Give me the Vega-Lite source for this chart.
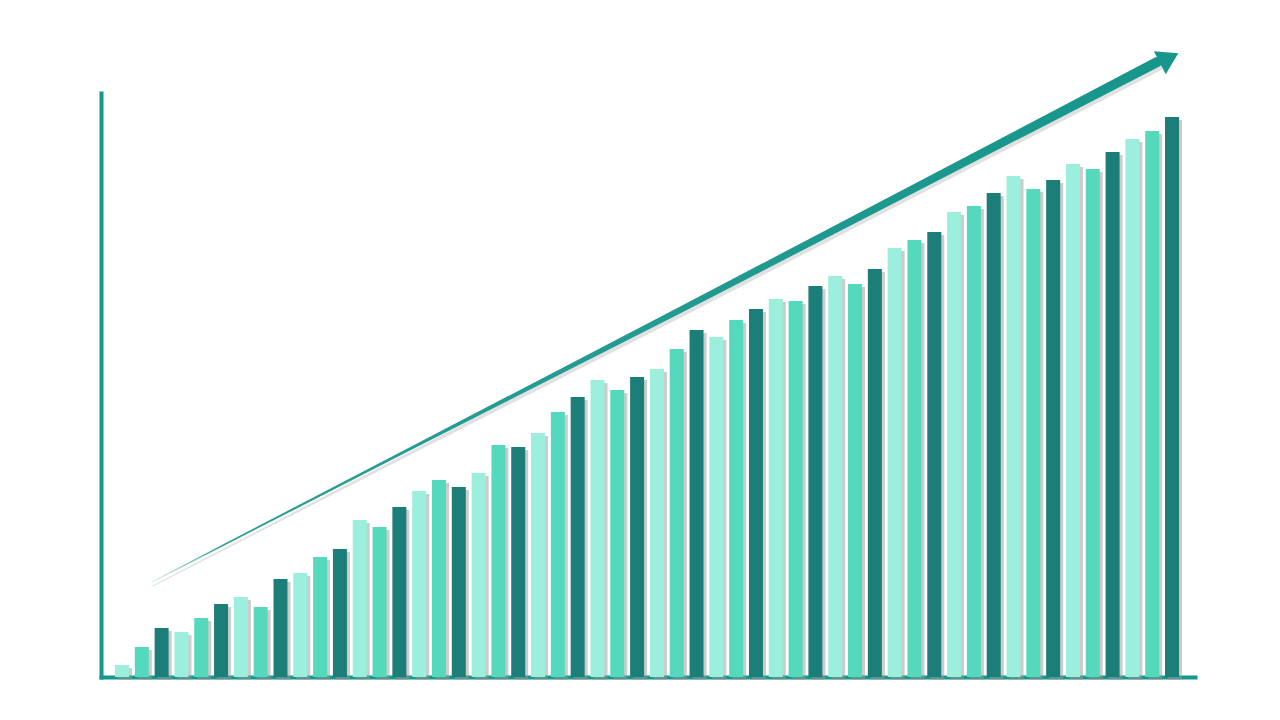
{
  "$schema": "https://vega.github.io/schema/vega-lite/v6.json",
  "description": "Rising bar series with a trend arrow.",
  "width": 1094,
  "height": 584,
  "autosize": {"type": "none"},
  "padding": {"left": 101, "top": 93, "right": 85, "bottom": 43},
  "background": "#ffffff",
  "datasets": {
    "bars": [
      {"i": 0, "v": 2.05, "tone": "light"},
      {"i": 1, "v": 5.14, "tone": "medium"},
      {"i": 2, "v": 8.39, "tone": "dark"},
      {"i": 3, "v": 7.71, "tone": "light"},
      {"i": 4, "v": 10.1, "tone": "medium"},
      {"i": 5, "v": 12.5, "tone": "dark"},
      {"i": 6, "v": 13.7, "tone": "light"},
      {"i": 7, "v": 11.99, "tone": "medium"},
      {"i": 8, "v": 16.78, "tone": "dark"},
      {"i": 9, "v": 17.81, "tone": "light"},
      {"i": 10, "v": 20.55, "tone": "medium"},
      {"i": 11, "v": 21.92, "tone": "dark"},
      {"i": 12, "v": 26.88, "tone": "light"},
      {"i": 13, "v": 25.68, "tone": "medium"},
      {"i": 14, "v": 29.11, "tone": "dark"},
      {"i": 15, "v": 31.85, "tone": "light"},
      {"i": 16, "v": 33.73, "tone": "medium"},
      {"i": 17, "v": 32.53, "tone": "dark"},
      {"i": 18, "v": 34.93, "tone": "light"},
      {"i": 19, "v": 39.73, "tone": "medium"},
      {"i": 20, "v": 39.38, "tone": "dark"},
      {"i": 21, "v": 41.78, "tone": "light"},
      {"i": 22, "v": 45.38, "tone": "medium"},
      {"i": 23, "v": 47.95, "tone": "dark"},
      {"i": 24, "v": 50.86, "tone": "light"},
      {"i": 25, "v": 49.14, "tone": "medium"},
      {"i": 26, "v": 51.37, "tone": "dark"},
      {"i": 27, "v": 52.74, "tone": "light"},
      {"i": 28, "v": 56.16, "tone": "medium"},
      {"i": 29, "v": 59.42, "tone": "dark"},
      {"i": 30, "v": 58.22, "tone": "light"},
      {"i": 31, "v": 61.13, "tone": "medium"},
      {"i": 32, "v": 63.01, "tone": "dark"},
      {"i": 33, "v": 64.73, "tone": "light"},
      {"i": 34, "v": 64.38, "tone": "medium"},
      {"i": 35, "v": 66.95, "tone": "dark"},
      {"i": 36, "v": 68.66, "tone": "light"},
      {"i": 37, "v": 67.29, "tone": "medium"},
      {"i": 38, "v": 69.86, "tone": "dark"},
      {"i": 39, "v": 73.46, "tone": "light"},
      {"i": 40, "v": 74.83, "tone": "medium"},
      {"i": 41, "v": 76.2, "tone": "dark"},
      {"i": 42, "v": 79.62, "tone": "light"},
      {"i": 43, "v": 80.65, "tone": "medium"},
      {"i": 44, "v": 82.88, "tone": "dark"},
      {"i": 45, "v": 85.79, "tone": "light"},
      {"i": 46, "v": 83.56, "tone": "medium"},
      {"i": 47, "v": 85.1, "tone": "dark"},
      {"i": 48, "v": 87.84, "tone": "light"},
      {"i": 49, "v": 86.99, "tone": "medium"},
      {"i": 50, "v": 89.9, "tone": "dark"},
      {"i": 51, "v": 92.12, "tone": "light"},
      {"i": 52, "v": 93.49, "tone": "medium"},
      {"i": 53, "v": 95.89, "tone": "dark"}
    ],
    "arrow": [
      {"x": 1.51, "y": 16.27, "w": 0},
      {"x": 14.03, "y": 38.18, "w": 3},
      {"x": 28.17, "y": 62.84, "w": 6},
      {"x": 52.25, "y": 105.3, "w": 10}
    ],
    "head": [
      {"x": 52.85, "y": 106.0}
    ]
  },
  "layer": [
    {
      "data": {"name": "bars"},
      "mark": {"type": "bar", "width": 14, "color": "#9a9a9a", "opacity": 0.5, "xOffset": 3, "yOffset": 3},
      "encoding": {
        "x": {"field": "i", "type": "quantitative", "scale": {"domain": [-1.06, 54.16], "nice": false, "zero": false, "padding": 0}},
        "y": {"field": "v", "type": "quantitative", "scale": {"domain": [0, 100], "nice": false}}
      }
    },
    {
      "data": {"name": "bars"},
      "mark": {"type": "bar", "width": 14},
      "encoding": {
        "x": {"field": "i", "type": "quantitative", "scale": {"domain": [-1.06, 54.16], "nice": false, "zero": false, "padding": 0}},
        "y": {"field": "v", "type": "quantitative", "scale": {"domain": [0, 100], "nice": false}},
        "color": {
          "field": "tone",
          "type": "nominal",
          "scale": {"domain": ["light", "medium", "dark"], "range": ["#9cefdc", "#54d9bc", "#1b7e79"]},
          "legend": null
        }
      }
    },
    {
      "data": {"name": "arrow"},
      "mark": {"type": "trail", "color": "#9a9a9a", "opacity": 0.3, "yOffset": 4, "xOffset": 1},
      "encoding": {
        "x": {"field": "x", "type": "quantitative", "scale": {"domain": [-1.06, 54.16], "nice": false, "zero": false, "padding": 0}},
        "y": {"field": "y", "type": "quantitative", "scale": {"domain": [0, 100], "nice": false}},
        "size": {"field": "w", "type": "quantitative", "scale": {"domain": [0, 10], "range": [0, 10]}, "legend": null}
      }
    },
    {
      "data": {"name": "arrow"},
      "mark": {
        "type": "trail",
        "color": {
          "gradient": "linear",
          "x1": 0, "y1": 0, "x2": 1, "y2": 0,
          "stops": [
            {"offset": 0, "color": "#e4f1ef"},
            {"offset": 0.07, "color": "#2a9e94"},
            {"offset": 1, "color": "#17968c"}
          ]
        }
      },
      "encoding": {
        "x": {"field": "x", "type": "quantitative", "scale": {"domain": [-1.06, 54.16], "nice": false, "zero": false, "padding": 0}},
        "y": {"field": "y", "type": "quantitative", "scale": {"domain": [0, 100], "nice": false}},
        "size": {"field": "w", "type": "quantitative", "scale": {"domain": [0, 10], "range": [0, 10]}, "legend": null}
      }
    },
    {
      "data": {"name": "head"},
      "mark": {"type": "point", "shape": "M -0.8 -1 L 0.8 0 L -0.8 1 Z", "size": 676, "angle": 332.8, "filled": true, "color": "#17968c", "opacity": 1},
      "encoding": {
        "x": {"field": "x", "type": "quantitative", "scale": {"domain": [-1.06, 54.16], "nice": false, "zero": false, "padding": 0}},
        "y": {"field": "y", "type": "quantitative", "scale": {"domain": [0, 100], "nice": false}}
      }
    },
    {
      "mark": {"type": "rule", "color": "#9a9a9a", "opacity": 0.35, "strokeWidth": 3, "yOffset": 4},
      "encoding": {
        "x": {"datum": -1.06, "type": "quantitative"},
        "x2": {"datum": 54.16},
        "y": {"datum": 0, "type": "quantitative"}
      }
    },
    {
      "mark": {"type": "rule", "color": "#9a9a9a", "opacity": 0.35, "strokeWidth": 3, "xOffset": 4},
      "encoding": {
        "x": {"datum": -1.06, "type": "quantitative"},
        "y": {"datum": 0, "type": "quantitative"},
        "y2": {"datum": 100}
      }
    }
  ],
  "config": {
    "view": {"stroke": null},
    "axis": {
      "labels": false,
      "ticks": false,
      "title": null,
      "grid": false,
      "domainColor": "#17968c",
      "domainWidth": 4,
      "domainCap": "square",
      "zindex": 1
    }
  }
}
